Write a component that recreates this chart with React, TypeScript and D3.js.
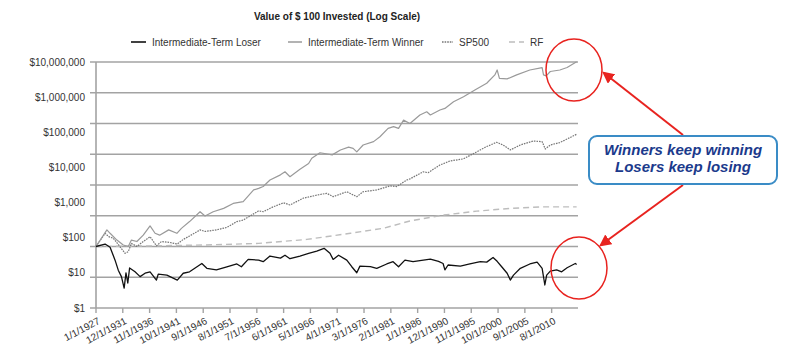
import React from 'react';
import * as d3 from 'd3';

// values (dollar value of $100 invested, log scale)
const loserYears = [1927.0, 1928.7, 1929.6, 1930.5, 1931.1, 1931.7, 1932.2, 1932.5, 1932.8, 1933.2, 1934.2, 1935.1, 1936.0, 1936.9, 1938.1, 1938.4, 1940.0, 1941.9, 1943.0, 1944.2, 1946.4, 1947.3, 1949.1, 1951.0, 1952.8, 1953.7, 1954.9, 1956.8, 1957.7, 1958.9, 1960.8, 1961.7, 1962.6, 1964.4, 1966.0, 1967.5, 1968.8, 1969.9, 1970.5, 1971.5, 1973.0, 1973.9, 1974.8, 1975.4, 1977.3, 1978.5, 1980.3, 1981.5, 1982.5, 1983.7, 1985.2, 1986.4, 1988.3, 1989.8, 1990.7, 1991.0, 1991.6, 1993.8, 1995.6, 1997.5, 1998.7, 1999.8, 2000.6, 2001.4, 2002.4, 2003.0, 2003.6, 2004.8, 2006.6, 2007.9, 2008.8, 2009.3, 2009.7, 2010.3, 2011.5, 2012.4, 2013.4, 2014.9, 2015.2];
const loserValues = [100, 120, 95, 36, 17, 10.5, 4.4, 13.8, 6.5, 20, 15, 10.5, 13.5, 15, 8.1, 12.6, 11.7, 8.1, 13.5, 15, 28, 19.5, 17.4, 21.9, 27, 21.9, 38, 36, 32, 49, 42, 52, 40, 49, 60, 71, 87, 60, 38, 52, 36, 22, 14, 23, 22, 19.5, 27, 32, 22, 36, 32, 35, 39, 33, 28, 17.4, 25, 23, 27, 32, 31, 44, 33, 22, 13.5, 8.1, 11.7, 19.5, 27, 31, 19.5, 5.6, 11.7, 15.8, 17.4, 15, 20.4, 28, 26];

const winnerYears = [1927.0, 1929.0, 1929.6, 1930.8, 1932.0, 1932.9, 1933.5, 1934.5, 1935.7, 1936.9, 1937.8, 1938.7, 1940.3, 1941.8, 1942.7, 1944.2, 1946.1, 1947.0, 1948.5, 1950.4, 1952.2, 1954.0, 1955.9, 1956.8, 1957.7, 1958.9, 1960.8, 1961.7, 1962.6, 1964.4, 1966.0, 1966.6, 1968.1, 1970.3, 1971.8, 1973.3, 1974.2, 1974.8, 1976.0, 1977.9, 1979.1, 1980.6, 1981.6, 1982.5, 1983.4, 1984.6, 1986.4, 1987.7, 1988.3, 1990.1, 1991.0, 1992.6, 1994.4, 1996.5, 1998.7, 2000.2, 2000.6, 2001.0, 2002.4, 2004.2, 2006.6, 2008.8, 2009.1, 2009.6, 2010.3, 2012.1, 2013.4, 2015.2];
const winnerValues = [100, 347, 269, 162, 112, 100, 162, 145, 234, 468, 269, 234, 347, 269, 389, 646, 1350, 977, 1350, 1740, 2510, 2880, 6920, 7760, 8910, 14500, 21400, 26900, 18600, 32400, 50100, 74100, 112000, 95500, 138000, 170000, 155000, 120000, 200000, 257000, 372000, 692000, 794000, 692000, 1290000, 1000000, 1900000, 2400000, 1900000, 2750000, 3090000, 5130000, 7410000, 12300000, 20400000, 38000000, 55000000, 29500000, 28200000, 38000000, 55000000, 66000000, 38000000, 35500000, 49000000, 55000000, 66000000, 102000000];

const spYears = [1927.0, 1928.7, 1929.3, 1930.2, 1931.4, 1932.3, 1932.9, 1933.5, 1934.5, 1935.7, 1936.9, 1938.1, 1939.0, 1940.6, 1941.9, 1943.0, 1944.2, 1946.1, 1947.0, 1949.1, 1951.0, 1952.8, 1954.0, 1955.9, 1956.8, 1957.7, 1959.5, 1961.4, 1962.6, 1965.0, 1967.5, 1969.3, 1970.5, 1973.0, 1974.8, 1976.0, 1978.5, 1980.9, 1982.2, 1984.0, 1984.6, 1987.0, 1987.9, 1990.1, 1991.9, 1994.4, 1996.8, 1998.7, 2000.5, 2001.7, 2003.0, 2004.8, 2007.2, 2008.8, 2009.4, 2010.3, 2012.1, 2013.9, 2015.2];
const spValues = [100, 269, 209, 186, 98, 60, 68, 126, 100, 145, 209, 105, 145, 135, 120, 170, 219, 347, 309, 347, 417, 646, 724, 1150, 1450, 1350, 1950, 2630, 2240, 3720, 4680, 5370, 4170, 6030, 4170, 6030, 6920, 9330, 8910, 14500, 15800, 26900, 25100, 44700, 60300, 70800, 120000, 178000, 245000, 200000, 138000, 200000, 269000, 257000, 148000, 200000, 240000, 347000, 447000];

const rfYears = [1927.0, 1938.0, 1947.0, 1956.8, 1965.7, 1973.7, 1979.7, 1984.6, 1990.7, 1996.8, 2003.0, 2009.0, 2015.2];
const rfValues = [100, 105, 112, 126, 170, 269, 389, 676, 1050, 1410, 1740, 1950, 1950];

const yLabels = ['$1', '$10', '$100', '$1,000', '$10,000', '$100,000', '$1,000,000', '$10,000,000'];
const xTickLabels = ['1/1/1927', '12/1/1931', '11/1/1936', '10/1/1941', '9/1/1946', '8/1/1951', '7/1/1956', '6/1/1961', '5/1/1966', '4/1/1971', '3/1/1976', '2/1/1981', '1/1/1986', '12/1/1990', '11/1/1995', '10/1/2000', '9/1/2005', '8/1/2010'];
const seriesNames = ['Intermediate-Term Loser', 'Intermediate-Term Winner', 'SP500', 'RF'];

const W = 789;
const H = 360;
const font = '"Liberation Sans", Arial, Helvetica, sans-serif';

const toDate = (y: number) => {
  const yr = Math.floor(y);
  const m = Math.round((y - yr) * 12);
  return new Date(yr, m, 1);
};
const parseLabel = (s: string) => {
  const [m, d, y] = s.split('/').map(Number);
  return new Date(y, m - 1, d);
};

const App = () => {
  const left = 96;
  const right = 578;
  const top = 62;
  const bottom = 308;

  const x = d3.scaleTime()
    .domain([new Date(1927, 0, 1), new Date(2015, 5, 1)])
    .range([left, right]);
  const y = d3.scaleLog().domain([1, 1e8]).range([bottom, top]);
  // the labels in the source sit on their own spacing, not on the gridlines
  const yLab = d3.scalePoint<string>().domain(yLabels).range([bottom, top]);

  const line = (ys: number[], vs: number[]) =>
    d3.line<number>()
      .x((_, i) => x(toDate(ys[i])))
      .y((v) => y(v))(vs) || '';

  const gridVals = d3.range(0, 9).map((p) => Math.pow(10, p));

  const series = [
    { name: seriesNames[0], d: line(loserYears, loserValues), stroke: '#111', width: 1.3, dash: '' },
    { name: seriesNames[1], d: line(winnerYears, winnerValues), stroke: '#9a9a9a', width: 1.2, dash: '' },
    { name: seriesNames[2], d: line(spYears, spValues), stroke: '#777', width: 1.2, dash: '1.6,1' },
    { name: seriesNames[3], d: line(rfYears, rfValues), stroke: '#bdbdbd', width: 1.4, dash: '6,4' },
  ];
  const legendX = [131, 288, 442, 509];
  const legendW = [15, 14, 11, 15];

  return (
    <svg width={W} height={H} style={{ position: 'absolute', left: 0, top: 0, background: '#fff' }} fontFamily={font}>
      <defs>
        <marker id="arrow" viewBox="0 0 10 10" refX="8" refY="5" markerWidth="6" markerHeight="6" orient="auto-start-reverse">
          <path d="M0,0 L10,5 L0,10 z" fill="#e8231f" />
        </marker>
      </defs>

      <text x={337} y={20} textAnchor="middle" fontSize={10} fontWeight="bold" fill="#222">
        Value of $ 100 Invested (Log Scale)
      </text>

      {series.map((s, i) => (
        <g key={s.name}>
          <line x1={legendX[i]} x2={legendX[i] + legendW[i]} y1={42} y2={42} stroke={s.stroke} strokeWidth={s.width + 0.3} strokeDasharray={s.dash} />
          <text x={legendX[i] + legendW[i] + 6} y={45.5} fontSize={10} fill="#333">{s.name}</text>
        </g>
      ))}

      {gridVals.map((v) => (
        <line key={v} x1={left - 6} x2={right} y1={y(v)} y2={y(v)} stroke="#a3a3a3" strokeWidth={1.6} />
      ))}
      <line x1={left} x2={left} y1={top} y2={bottom} stroke="#a3a3a3" strokeWidth={1.6} />

      {yLabels.map((l) => (
        <text key={l} x={85} y={yLab(l)} dy="0.35em" textAnchor="end" fontSize={10} fill="#333">{l}</text>
      ))}

      {xTickLabels.map((l) => {
        const px = x(parseLabel(l));
        return (
          <g key={l}>
            <line x1={px} x2={px} y1={bottom} y2={bottom + 5} stroke="#a3a3a3" strokeWidth={1.4} />
            <text transform={`translate(${px + 3},${bottom + 12}) rotate(-28)`} textAnchor="end" dy="0.35em" fontSize={10} fill="#333">{l}</text>
          </g>
        );
      })}

      {series.slice().reverse().map((s) => (
        <path key={s.name} d={s.d} fill="none" stroke={s.stroke} strokeWidth={s.width} strokeDasharray={s.dash} strokeLinejoin="round" />
      ))}

      <ellipse cx={574} cy={70} rx={28} ry={31} fill="none" stroke="#e8231f" strokeWidth={1.5} />
      <ellipse cx={579} cy={268} rx={28} ry={31} fill="none" stroke="#e8231f" strokeWidth={1.5} />
      <line x1={683} y1={135} x2={604} y2={73} stroke="#e8231f" strokeWidth={2} markerEnd="url(#arrow)" />
      <line x1={683} y1={185} x2={601} y2={245} stroke="#e8231f" strokeWidth={2} markerEnd="url(#arrow)" />

      <rect x={589} y={136} width={188} height={48} rx={8} fill="#fff" stroke="#3a8cc6" strokeWidth={2} />
      <text x={683} y={155} textAnchor="middle" fontSize={15} fontWeight="bold" fontStyle="italic" fill="#1b3a8c">Winners keep winning</text>
      <text x={683} y={172} textAnchor="middle" fontSize={15} fontWeight="bold" fontStyle="italic" fill="#1b3a8c">Losers keep losing</text>
    </svg>
  );
};

export default App;
